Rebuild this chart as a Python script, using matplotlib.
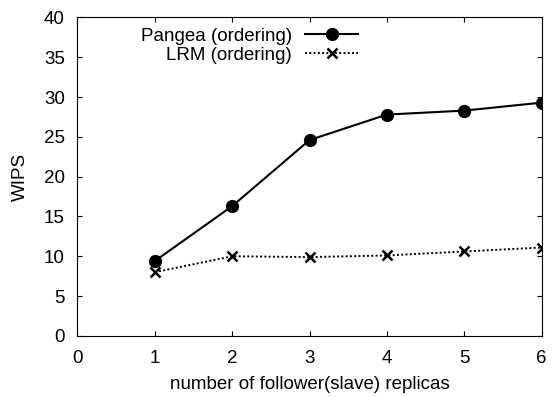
import matplotlib
matplotlib.use("Agg")
import matplotlib.pyplot as plt

plt.rcParams['font.family'] = ['Liberation Sans', 'DejaVu Sans']

replicas = [1, 2, 3, 4, 5, 6]
pangea_wips = [9.4, 16.3, 24.6, 27.8, 28.3, 29.3]
lrm_wips = [8.0, 10.0, 9.9, 10.1, 10.6, 11.1]

fig = plt.figure(figsize=(5.53, 3.97), dpi=100)
ax = fig.add_axes([0.140, 0.154, 0.8395, 0.802])

ax.plot(replicas, pangea_wips, color='black', linewidth=1.5, marker='o',
        markersize=8.5, label='Pangea (ordering)')
ax.plot(replicas, lrm_wips, color='black', linewidth=1.4, linestyle=(0, (1, 1.2)),
        marker='x', markersize=7, markeredgewidth=1.8, label='LRM (ordering)')

ax.set_xlim(0, 6)
ax.set_ylim(0, 40)
ax.set_xticks(range(0, 7))
ax.set_yticks(range(0, 41, 5))
ax.tick_params(direction='in', top=True, right=True, labelsize=13.5, length=3.5)
ax.tick_params(axis='x', pad=10)
ax.tick_params(axis='y', pad=9)
ax.set_xlabel("number of follower(slave) replicas", fontsize=13.5, labelpad=7)
ax.set_ylabel("WIPS", fontsize=13.5, labelpad=11)

leg = ax.legend(loc='upper right', bbox_to_anchor=(0.604, 0.968), frameon=False,
                markerfirst=False, fontsize=13.5, handlelength=2.8,
                labelspacing=0.1, handletextpad=0.7, borderpad=0, borderaxespad=0)
for t in leg.get_texts():
    t.set_ha('right')
leg._legend_box.align = 'right'

fig.savefig("out.png", dpi=100)
